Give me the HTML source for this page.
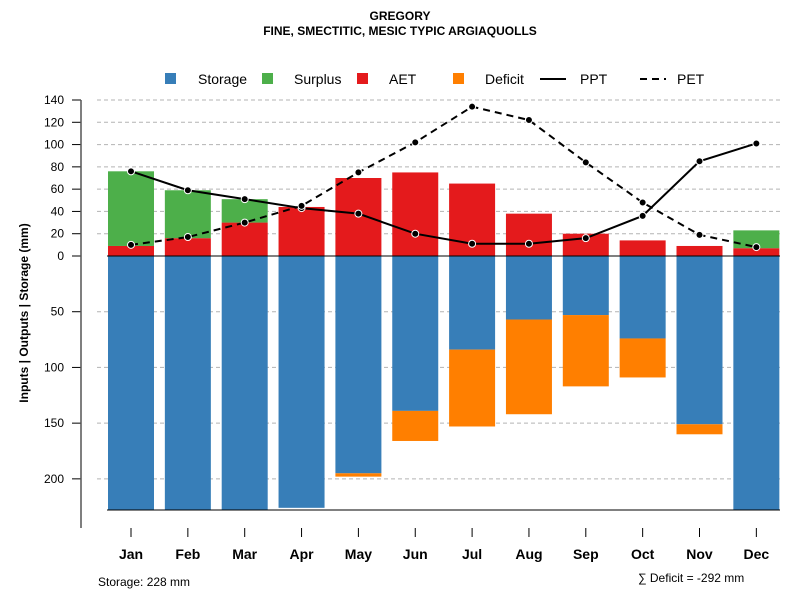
<!DOCTYPE html>
<html><head><meta charset="utf-8"><style>
body{margin:0;background:#fff;font-family:"Liberation Sans",sans-serif}
</style></head><body>
<svg id="c" width="800" height="600" xmlns="http://www.w3.org/2000/svg" font-family="Liberation Sans, sans-serif">
<text x="400" y="20" text-anchor="middle" font-size="12" font-weight="bold">GREGORY</text>
<text x="400" y="35" text-anchor="middle" font-size="12" font-weight="bold">FINE, SMECTITIC, MESIC TYPIC ARGIAQUOLLS</text>
<g id="legend" font-size="14">
<rect x="165" y="73" width="11" height="11" fill="#377eb8"/><text x="198" y="84">Storage</text>
<rect x="262" y="73" width="11" height="11" fill="#4daf4a"/><text x="294" y="84">Surplus</text>
<rect x="357" y="73" width="11" height="11" fill="#e41a1c"/><text x="389" y="84">AET</text>
<rect x="453" y="73" width="11" height="11" fill="#ff7f00"/><text x="485" y="84">Deficit</text>
<line x1="540" y1="79" x2="566" y2="79" stroke="#000" stroke-width="2"/><text x="580" y="84">PPT</text>
<line x1="640" y1="79" x2="666" y2="79" stroke="#000" stroke-width="2" stroke-dasharray="7,5"/><text x="677" y="84">PET</text>
</g>
<g id="plot"></g>
<text transform="translate(28,313) rotate(-90)" text-anchor="middle" font-size="12" font-weight="bold">Inputs | Outputs | Storage    (mm)</text>
<text x="98" y="586" font-size="12">Storage: 228 mm</text>
<text x="638" y="582" font-size="12">∑ Deficit = -292 mm</text>
</svg>
<script>
const months=["Jan","Feb","Mar","Apr","May","Jun","Jul","Aug","Sep","Oct","Nov","Dec"];
const aet=[9,16,30,44,70,75,65,38,20,14,9,7];
const surplus=[67,43,21,0,0,0,0,0,0,0,0,16];
const storage=[228,228,228,226,195,139,84,57,53,74,151,228];
const deficit=[0,0,0,0,3,27,69,85,64,35,9,0];
const ppt=[76,59,51,43,38,20,11,11,16,36,85,101];
const pet=[10,17,30,45,75,102,134,122,84,48,19,8];
const upTicks=[0,20,40,60,80,100,120,140];
const downTicks=[50,100,150,200];
const NS="http://www.w3.org/2000/svg";
const g=document.getElementById('plot');
const y0=256,k=156/140;
const yUp=v=>y0-v*k, yDn=v=>y0+v*k;
const xc=i=>131+i*56.85, bw=46;
function mk(t,a,p){const e=document.createElementNS(NS,t);for(const n in a)e.setAttribute(n,a[n]);(p||g).appendChild(e);return e;}
upTicks.forEach(t=>{
 if(t>0){const l=mk('line',{x1:97,x2:782,y1:yUp(t),y2:yUp(t),stroke:'#b3b3b3','stroke-dasharray':'4,3'});
 
 }
 const tk=mk('line',{x1:72,x2:81,y1:yUp(t),y2:yUp(t),stroke:'#000'});
 
 
 const tx=mk('text',{x:64,y:yUp(t)+4,'text-anchor':'end','font-size':12});tx.textContent=t;
 
 
});
downTicks.forEach(t=>{
 const l=mk('line',{x1:97,x2:782,y1:yDn(t),y2:yDn(t),stroke:'#b3b3b3','stroke-dasharray':'4,3'});
 
 
 const tk=mk('line',{x1:72,x2:81,y1:yDn(t),y2:yDn(t),stroke:'#000'});
 
 
 const tx=mk('text',{x:64,y:yDn(t)+4,'text-anchor':'end','font-size':12});tx.textContent=t;
 
 
});
const ax=mk('line',{x1:81,x2:81,y1:100,y2:528,stroke:'#555','stroke-width':1.5});


months.forEach((m,i)=>{
 const x=xc(i)-bw/2;
 const a=mk('rect',{x:x,y:yUp(aet[i]),width:bw,height:aet[i]*k,fill:'#e41a1c'});
 
 
 if(surplus[i]>0){const s=mk('rect',{x:x,y:yUp(aet[i]+surplus[i]),width:bw,height:surplus[i]*k,fill:'#4daf4a'});
 
 }
 const st=mk('rect',{x:x,y:y0,width:bw,height:storage[i]*k,fill:'#377eb8'});
 
 
 if(deficit[i]>0){const d=mk('rect',{x:x,y:yDn(storage[i]),width:bw,height:deficit[i]*k,fill:'#ff7f00'});
 
 }
 const tk=mk('line',{x1:xc(i),x2:xc(i),y1:528,y2:537,stroke:'#000'});
 
 
 const tx=mk('text',{x:xc(i),y:559,'text-anchor':'middle','font-size':14,'font-weight':'bold'});tx.textContent=m;
 
 
});
const zl=mk('line',{x1:107,x2:780,y1:y0,y2:y0,stroke:'#000'});


const bl=mk('line',{x1:107,x2:780,y1:yDn(228),y2:yDn(228),stroke:'#000'});


function series(vals,dash,name){
 const p=mk('polyline',{points:vals.map((v,i)=>xc(i)+','+yUp(v)).join(' '),fill:'none',stroke:'#000','stroke-width':2,'stroke-dasharray':dash});
 
 
 vals.forEach((v,i)=>{const c=mk('circle',{cx:xc(i),cy:yUp(v),r:3.5,fill:'#000',stroke:'#fff','stroke-width':1});
 
 });
}
series(ppt,'none','ppt');
series(pet,'7,5','pet');
</script>
</body></html>
